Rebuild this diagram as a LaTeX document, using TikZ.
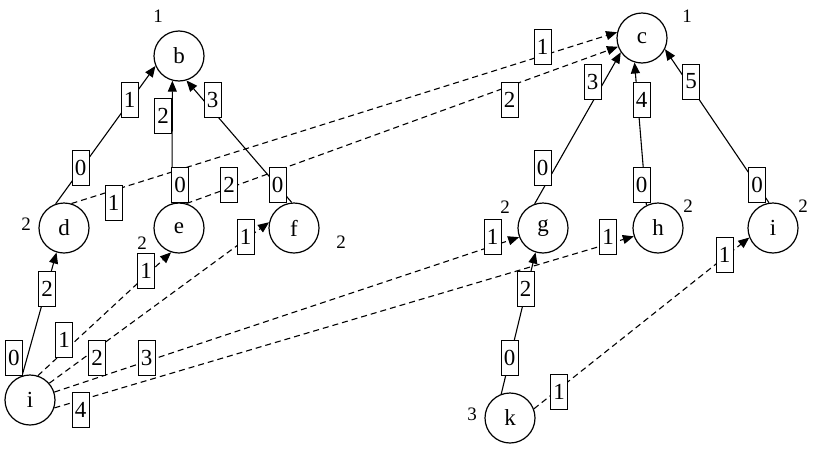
\documentclass[tikz,border=0pt]{standalone}
\usepackage{fontspec}
\setmainfont{Liberation Serif}
\usetikzlibrary{arrows.meta}
\newcommand{\vtxfont}{\fontsize{23pt}{23pt}\selectfont}
\newcommand{\lblfont}{\fontsize{23pt}{23pt}\selectfont}
\newcommand{\annfont}{\fontsize{19pt}{19pt}\selectfont}
\tikzset{
  vtx/.style={circle, draw, line width=1.2pt, minimum size=50pt, inner sep=0pt, font=\vtxfont},
  lbl/.style={draw, fill=white, line width=1pt, minimum width=17pt, minimum height=35pt, inner sep=0pt, font=\lblfont},
  ann/.style={inner sep=0pt, font=\annfont},
  sol/.style={-{Triangle[length=11pt,width=9pt]}, line width=1.1pt},
  dsh/.style={sol, dash pattern=on 6pt off 4pt}
}
\begin{document}
\begin{tikzpicture}[x=1pt,y=-1pt]
\useasboundingbox (0,0) rectangle (813,450);
% vertices
\node[vtx] (b) at (179,56) {b};
\node[vtx] (c) at (642,38) {c};
\node[vtx] (d) at (64,228) {d};
\node[vtx] (e) at (179,228) {e};
\node[vtx] (f) at (294,228) {f};
\node[vtx] (g) at (543,228) {g};
\node[vtx] (h) at (658,228) {h};
\node[vtx] (i) at (773,228) {i};
\node[vtx] (j) at (30,400) {i};
\node[vtx] (k) at (510,418) {k};
% annotations
\node[ann] (ab) at (158,16) {1};
\node[ann] (ac) at (687,16) {1};
\node[ann] (ad) at (26,224) {2};
\node[ann] (ae) at (142,243) {2};
\node[ann] (af) at (341,242) {2};
\node[ann] (ag) at (505,207) {2};
\node[ann] (ah) at (688,206) {2};
\node[ann] (ai) at (803,206) {2};
\node[ann] (ak) at (472,414) {3};
% solid edges
\draw[sol] (d.109) -- (b.203);
\draw[sol] (e.106) -- (b.255);
\draw[sol] (f.95) -- (b.287);
\draw[sol] (j.108) -- (d.253);
\draw[sol] (g.109) -- (c.214);
\draw[sol] (h.117) -- (c.253);
\draw[sol] (i.99) -- (c.334);
\draw[sol] (k.110) -- (g.253);
% dashed edges
\draw[dsh] (d.73) -- (c.167);
\draw[dsh] (e.73) -- (c.200);
\draw[dsh] (j.72) -- (e.252);
\draw[dsh] (j.41) -- (f.167);
\draw[dsh] (j.18) -- (g.201);
\draw[dsh] (j.342) -- (h.199);
\draw[dsh] (k.21) -- (i.202);
% edge labels
\node[lbl] (l1) at (80.5,167.5) {0};
\node[lbl] (l2) at (129.5,99.5) {1};
\node[lbl] (l3) at (180,185) {0};
\node[lbl] (l4) at (163,116) {2};
\node[lbl] (l5) at (277.5,185) {0};
\node[lbl] (l6) at (212.5,99.5) {3};
\node[lbl] (l7) at (113.5,203) {1};
\node[lbl] (l8) at (542.5,47) {1};
\node[lbl] (l9) at (229,185) {2};
\node[lbl] (l10) at (509.5,99.5) {2};
\node[lbl] (l11) at (542.5,168) {0};
\node[lbl] (l12) at (592.5,81.5) {3};
\node[lbl] (l13) at (641.5,185) {0};
\node[lbl] (l14) at (641.5,99.5) {4};
\node[lbl] (l15) at (757,185) {0};
\node[lbl] (l16) at (691,81.5) {5};
\node[lbl] (l17) at (14,357.5) {0};
\node[lbl] (l18) at (47,289) {2};
\node[lbl] (l19) at (64,340) {1};
\node[lbl] (l20) at (146,271) {1};
\node[lbl] (l21) at (97,357.5) {2};
\node[lbl] (l22) at (245.5,237) {1};
\node[lbl] (l23) at (146.5,357.5) {3};
\node[lbl] (l24) at (492.5,236.5) {1};
\node[lbl] (l25) at (80.5,409.5) {4};
\node[lbl] (l26) at (608,236.5) {1};
\node[lbl] (l27) at (509.5,357.5) {0};
\node[lbl] (l28) at (525.5,289) {2};
\node[lbl] (l29) at (559,391.5) {1};
\node[lbl] (l30) at (724.5,254.5) {1};
\end{tikzpicture}
\end{document}
